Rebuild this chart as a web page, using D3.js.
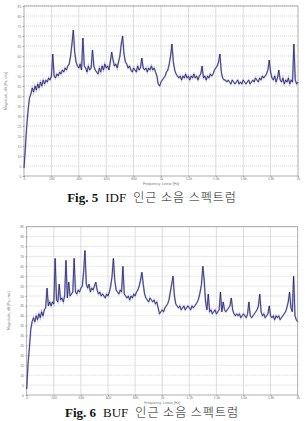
<!DOCTYPE html>
<html>
<head>
<meta charset="utf-8">
<script src="https://cdn.jsdelivr.net/npm/d3@7"></script>
<style>
  body { margin: 0; background: #fff; }
  svg { display: block; }
</style>
</head>
<body>
<svg id="fig" width="305" height="421"></svg>
<script>
// spectrum bins, 10 Hz apart, 0..2000 Hz
const freqStep = 10;

// Fig. 5 IDF, magnitude dB
const idfValues = [
  4, 14, 25, 33, 39, 41, 44, 42, 45, 43,
  46, 44, 47, 45, 48, 46, 48, 47, 49, 48,
  50, 61, 50, 49, 51, 50, 52, 51, 53, 52,
  54, 53, 55, 56, 60, 66, 73, 62, 57, 55,
  54, 56, 53, 69, 55, 54, 52, 55, 53, 54,
  63, 55, 53, 52, 51, 54, 52, 55, 53, 56,
  54, 55, 53, 57, 62, 58, 55, 56, 54, 57,
  60, 66, 70, 61, 57, 56, 54, 55, 53, 52,
  54, 53, 52, 55, 53, 54, 59, 54, 53, 54,
  52, 54, 53, 55, 53, 54, 52, 50, 46, 45,
  47, 48, 49, 50, 52, 53, 56, 60, 66, 57,
  53, 51, 50, 49, 50, 48, 50, 49, 51, 49,
  50, 48, 50, 49, 51, 49, 50, 48, 50, 51,
  55, 49, 50, 48, 50, 49, 51, 50, 51, 53,
  54, 55, 57, 61, 52, 49, 48, 48, 47, 48,
  47, 46, 48, 47, 46, 47, 48, 46, 47, 46,
  48, 47, 46, 47, 48, 46, 47, 48, 47, 49,
  48, 47, 49, 48, 50, 49, 50, 51, 53, 58,
  52, 49, 48, 50, 47, 49, 53, 48, 47, 49,
  46, 48, 47, 49, 46, 48, 47, 66, 48, 46,
  47
];

// Fig. 6 BUF, magnitude dB
const bufValues = [
  3, 16, 24, 33, 37, 39, 37, 40, 38, 41,
  39, 42, 40, 43, 44, 54, 45, 47, 45, 47,
  46, 69, 48, 47, 56, 48, 49, 47, 50, 68,
  49, 57, 50, 51, 52, 69, 52, 51, 53, 52,
  54, 55, 62, 73, 56, 54, 56, 52, 54, 53,
  55, 57, 53, 51, 52, 50, 51, 50, 49, 51,
  50, 52, 55, 60, 69, 58, 53, 52, 51, 53,
  52, 65, 51, 50, 49, 50, 48, 50, 49, 51,
  50, 52, 53, 55, 58, 62, 56, 51, 49, 48,
  47, 49, 48, 47, 48, 46, 47, 44, 41, 42,
  43, 42, 44, 45, 46, 48, 52, 56, 60, 50,
  46, 45, 44, 45, 43, 44, 45, 43, 44, 45,
  44, 43, 45, 44, 45, 46, 47, 49, 52, 56,
  65, 58, 47, 43, 51, 42, 43, 41, 42, 43,
  41, 42, 43, 52, 42, 47, 43, 42, 43, 44,
  45, 49, 43, 41, 40, 41, 40, 41, 39, 40,
  41, 40, 39, 41, 47, 40, 39, 40, 41, 42,
  43, 45, 51, 42, 40, 41, 39, 40, 41, 45,
  40, 39, 40, 38, 40, 39, 40, 38, 39, 40,
  41, 42, 44, 47, 52, 44, 42, 60, 40, 38,
  37
];

const xTicks = [0, 200, 400, 600, 800, 1000, 1200, 1400, 1600, 1800, 2000];
const xTickLabels = ['0', '200', '400', '600', '800', '1k', '1.2k', '1.4k', '1.6k', '1.8k', '2k'];
const yTicks = d3.range(0, 86, 5);

const xTitle = 'Frequency, Linear [Hz]';
const yTitle = 'Magnitude, dB [Pa, rms]';

const svg = d3.select('#fig');

function drawSpectrum(values, box, caption) {
  const data = values.map((v, i) => [i * freqStep, v]);

  const x = d3.scaleLinear().domain([0, 2000]).range([box.left, box.right]);
  const y = d3.scaleLinear().domain([0, 85]).range([box.bottom, box.top]);

  const g = svg.append('g');

  // horizontal dotted grid
  g.selectAll('.hgrid')
    .data(yTicks.slice(1))
    .enter()
    .append('line')
    .attr('x1', box.left)
    .attr('x2', box.right)
    .attr('y1', (d) => y(d))
    .attr('y2', (d) => y(d))
    .attr('stroke', '#b8b8b8')
    .attr('stroke-width', 0.6)
    .attr('stroke-dasharray', '1,1');

  // vertical grid
  g.selectAll('.vgrid')
    .data(xTicks.slice(1, -1))
    .enter()
    .append('line')
    .attr('x1', (d) => x(d))
    .attr('x2', (d) => x(d))
    .attr('y1', box.top)
    .attr('y2', box.bottom)
    .attr('stroke', '#d4d4d4')
    .attr('stroke-width', 0.8);

  // frame
  g.append('rect')
    .attr('x', box.left)
    .attr('y', box.top)
    .attr('width', box.right - box.left)
    .attr('height', box.bottom - box.top)
    .attr('fill', 'none')
    .attr('stroke', '#9a9a9a')
    .attr('stroke-width', 0.8);

  const line = d3.line()
    .x((d) => x(d[0]))
    .y((d) => y(d[1]));

  // lighter fringe then the dark trace
  g.append('path')
    .datum(data)
    .attr('d', line)
    .attr('fill', 'none')
    .attr('stroke', '#8c8cc8')
    .attr('stroke-width', 1.8)
    .attr('stroke-linejoin', 'miter')
    .attr('opacity', 0.6);

  g.append('path')
    .datum(data)
    .attr('d', line)
    .attr('fill', 'none')
    .attr('stroke', '#1a1a68')
    .attr('stroke-width', 0.75)
    .attr('stroke-linejoin', 'miter');

  // axes
  const xAxis = d3.axisBottom(x)
    .tickValues(xTicks)
    .tickSize(1.2)
    .tickPadding(1)
    .tickFormat((d, i) => xTickLabels[i]);

  const xg = g.append('g')
    .attr('transform', 'translate(0,' + box.bottom + ')')
    .call(xAxis);

  const yAxis = d3.axisLeft(y)
    .tickValues(yTicks)
    .tickSize(1.2)
    .tickPadding(1.5);

  const yg = g.append('g')
    .attr('transform', 'translate(' + box.left + ',0)')
    .call(yAxis);

  [xg, yg].forEach((a) => {
    a.select('.domain').remove();
    a.selectAll('line').attr('stroke', '#9a9a9a');
    a.selectAll('text')
      .attr('font-family', 'Arial, "Liberation Sans", sans-serif')
      .attr('font-size', 3.4)
      .attr('fill', '#777');
  });
  xg.selectAll('text').attr('dy', '0.6em');

  g.append('text')
    .attr('x', (box.left + box.right) / 2)
    .attr('y', box.bottom + 8.5)
    .attr('text-anchor', 'middle')
    .attr('font-family', 'Arial, "Liberation Sans", sans-serif')
    .attr('font-size', 3.6)
    .attr('fill', '#777')
    .text(xTitle);

  g.append('text')
    .attr('transform', 'translate(' + (box.left - 17) + ',' + (box.top + box.bottom) / 2 + ') rotate(-90)')
    .attr('text-anchor', 'middle')
    .attr('font-family', 'Arial, "Liberation Sans", sans-serif')
    .attr('font-size', 3.6)
    .attr('fill', '#777')
    .text(yTitle);

  // caption
  const cap = g.append('text')
    .attr('x', 152)
    .attr('y', box.captionY)
    .attr('text-anchor', 'middle')
    .attr('fill', '#111')
    .attr('font-size', 13);

  cap.append('tspan')
    .attr('font-family', '"Liberation Serif", "DejaVu Serif", serif')
    .attr('font-weight', 'bold')
    .text(caption[0]);
  cap.append('tspan')
    .attr('font-family', '"Liberation Serif", "DejaVu Serif", serif')
    .attr('dx', 7)
    .text(caption[1]);
  cap.append('tspan')
    .attr('font-family', '"Noto Sans CJK KR", sans-serif')
    .attr('font-weight', 300)
    .attr('font-size', 12)
    .attr('dx', 7)
    .attr('letter-spacing', 1)
    .text(caption[2]);
}

drawSpectrum(idfValues,
  { left: 24, right: 298, top: 6, bottom: 176, captionY: 202 },
  ['Fig. 5', 'IDF', '인근  소음  스펙트럼']);

drawSpectrum(bufValues,
  { left: 26.7, right: 297.7, top: 226.7, bottom: 395, captionY: 417 },
  ['Fig. 6', 'BUF', '인근  소음  스펙트럼']);
</script>
</body>
</html>
